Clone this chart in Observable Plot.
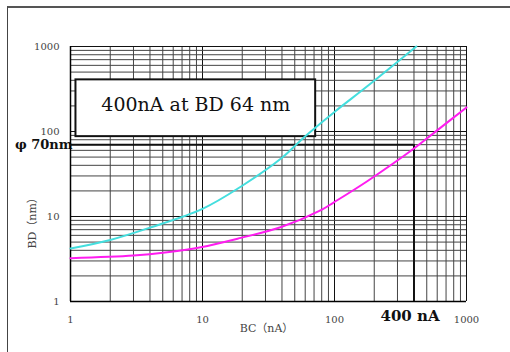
<!DOCTYPE html>
<html>
<head>
<meta charset="utf-8">
<script src="https://cdn.jsdelivr.net/npm/d3@7"></script>
<script src="https://cdn.jsdelivr.net/npm/@observablehq/plot@0.6"></script>
<style>
  html, body { margin: 0; padding: 0; background: #fff; overflow: hidden; }
  #wrap { position: relative; width: 510px; height: 352px; }
  #frame { position: absolute; left: 7px; top: 6px; width: 700px; height: 500px;
           border-top: 2px solid #555; border-left: 1px solid #444; pointer-events: none; }
</style>
</head>
<body>
<div id="wrap"><div id="frame"></div></div>
<script>
// Series: cyan curve
const cyanBC = [1, 2, 4, 10, 20, 40, 58, 100, 177, 417];
const cyanBD = [4.2, 5.3, 7.4, 12.3, 23, 49, 84, 170, 340, 1000];
// Series: magenta curve
const magentaBC = [1, 3, 5.4, 9.7, 19.5, 39, 79, 99, 177, 400, 570, 1000];
const magentaBD = [3.23, 3.47, 3.8, 4.35, 5.6, 7.47, 11.9, 14.7, 26, 63, 97, 192];

// Ticks and grid values
const xTicks = [1, 10, 100, 1000];
const yTicks = [1, 10, 100, 1000];
const gridValues = [];
for (const dec of [1, 10, 100]) for (let k = 1; k < 10; k++) gridValues.push(k * dec);
gridValues.push(1000);

// Annotations
const markBC = 400;          // nA
const markBD = 70;           // nm
const boxBC = [1.1, 72];
const boxBD = [87, 405];
const boxText = "400nA at BD 64 nm";
const bdLabel = "\u03c6 70nm";
const bcLabel = "400 nA";
const xLabel = "BC\uff08nA\uff09";
const yLabel = "BD\uff08nm\uff09";
const yLabelAt = 9;          // BD value where the rotated y label is centred

const cyan = cyanBC.map((x, i) => ({x, y: cyanBD[i]}));
const magenta = magentaBC.map((x, i) => ({x, y: magentaBD[i]}));

const isDecade = d => [1, 10, 100, 1000].includes(d);
const serif = "'DejaVu Serif', 'Noto Sans CJK JP', serif";

const chart = Plot.plot({
  width: 510,
  height: 352,
  marginLeft: 70,
  marginRight: 44,
  marginTop: 46,
  marginBottom: 51,
  x: {type: "log", domain: [1, 1000], axis: null},
  y: {type: "log", domain: [1, 1000], axis: null},
  style: {background: "transparent", fontFamily: serif},
  marks: [
    Plot.text([bdLabel], {x: () => 1, y: () => markBD, text: d => d, textAnchor: "end", lineAnchor: "middle", dx: 2,
      fontSize: 13, fontWeight: "bold", fill: "#111", fontFamily: serif}),
    Plot.ruleX(gridValues, {x: d => d, stroke: d => isDecade(d) ? "#111" : "#444", strokeWidth: 1}),
    Plot.ruleY(gridValues, {y: d => d, stroke: d => isDecade(d) ? "#111" : "#444", strokeWidth: 1}),
    Plot.ruleX([1], {x: d => d, stroke: "#000", strokeWidth: 1.5}),
    Plot.ruleY([1], {y: d => d, stroke: "#000", strokeWidth: 1.5}),
    Plot.rect([{x1: boxBC[0], x2: boxBC[1], y1: boxBD[0], y2: boxBD[1]}],
      {x1: "x1", x2: "x2", y1: "y1", y2: "y2", fill: "white", stroke: "#111", strokeWidth: 2}),
    Plot.text([boxText], {x: () => Math.sqrt(boxBC[0] * boxBC[1]), y: () => Math.sqrt(boxBD[0] * boxBD[1]),
      text: d => d, dy: -3, fontSize: 19, fill: "#111", fontFamily: serif}),
    Plot.ruleY([markBD], {y: d => d, x1: () => 1, x2: () => markBC, stroke: "#111", strokeWidth: 2}),
    Plot.ruleX([markBC], {x: d => d, y1: () => 1, y2: () => markBD, stroke: "#111", strokeWidth: 2}),
    Plot.line(cyan, {x: "x", y: "y", stroke: "#44dede", strokeWidth: 2, curve: "catmull-rom"}),
    Plot.line(magenta, {x: "x", y: "y", stroke: "#ff1cf0", strokeWidth: 2, curve: "catmull-rom"}),
    Plot.text(xTicks, {x: d => d, frameAnchor: "bottom", lineAnchor: "middle", textAnchor: "middle", dy: 18,
      text: d => String(d), fontSize: 10, fill: "#444", fontFamily: serif}),
    Plot.text(yTicks, {y: d => d, frameAnchor: "left", dx: -11, textAnchor: "end", lineAnchor: "middle",
      text: d => String(d), fontSize: 10, fill: "#444", fontFamily: serif}),
    Plot.text([xLabel], {frameAnchor: "bottom", lineAnchor: "middle", textAnchor: "middle", dy: 27, dx: -2,
      text: d => d, fontSize: 11, fill: "#444", fontFamily: serif}),
    Plot.text([yLabel], {y: () => yLabelAt, frameAnchor: "left", dx: -38, rotate: -90, textAnchor: "middle",
      lineAnchor: "middle", text: d => d, fontSize: 11, fill: "#444", fontFamily: serif}),
    Plot.text([bcLabel], {x: () => markBC, frameAnchor: "bottom", lineAnchor: "middle", textAnchor: "middle",
      dy: 15, dx: -4, text: d => d, fontSize: 15, fontWeight: "bold", fill: "#111", fontFamily: serif})
  ]
});
document.getElementById("wrap").appendChild(chart);
</script>
</body>
</html>
